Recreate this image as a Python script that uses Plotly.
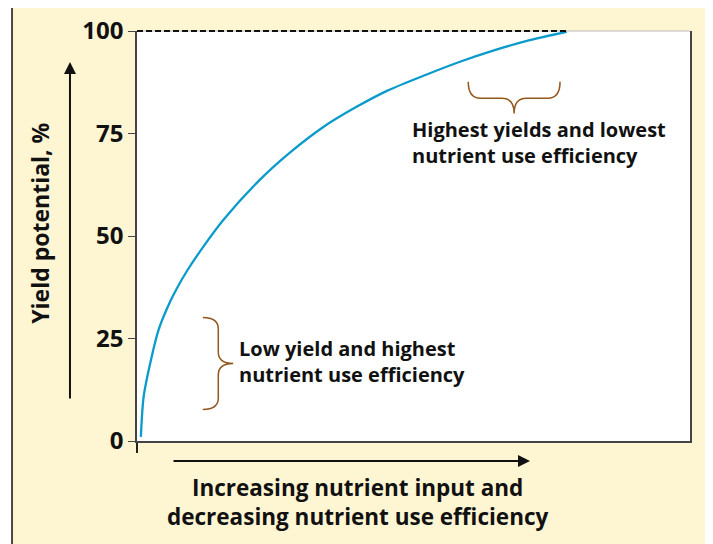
import plotly.graph_objects as go

# Data: nutrient input (relative units 0-100) vs yield potential (%)
nutrient_input = [0.7, 1.2, 2.4, 3.9, 6.0, 7.2, 9.0, 12.0, 15.6, 22.2, 27.7, 33.7,
                  39.7, 45.2, 52.4, 58.4, 64.4, 70.5, 77.7]
yield_potential = [1.0, 10.8, 19.0, 27.1, 34.0, 37.2, 41.4, 47.4, 53.9, 63.7, 70.4, 76.6,
                   81.5, 85.4, 89.4, 92.5, 95.2, 97.6, 99.8]
y_ticks = [0, 25, 50, 75, 100]

FONT = "Open Sans"
BROWN = "#94581F"
BLUE = "#0A9BCB"
CREAM = "#FEF5D3"

fig = go.Figure()
fig.add_trace(go.Scatter(x=nutrient_input, y=yield_potential, mode="lines",
                         line=dict(color=BLUE, width=2.3, shape="spline", smoothing=0.8),
                         hoverinfo="skip", showlegend=False))


def brace_right(x0, xv, xt, ytop, ybot, r):
    ym = (ytop + ybot) / 2
    return (f"M {x0},{ytop} Q {xv},{ytop} {xv},{ytop - r} L {xv},{ym + r} "
            f"Q {xv},{ym} {xt},{ym} Q {xv},{ym} {xv},{ym - r} L {xv},{ybot + r} "
            f"Q {xv},{ybot} {x0},{ybot}")


def brace_down(xl, xr, yend, yline, ytip, r):
    xm = (xl + xr) / 2
    return (f"M {xl},{yend} Q {xl},{yline} {xl + r},{yline} L {xm - r},{yline} "
            f"Q {xm},{yline} {xm},{ytip} Q {xm},{yline} {xm + r},{yline} L {xr - r},{yline} "
            f"Q {xr},{yline} {xr},{yend}")


shapes = [
    # cream frame
    dict(type="rect", xref="paper", yref="paper", x0=-0.226, x1=1.0307, y0=-0.3, y1=1.061,
         fillcolor=CREAM, line=dict(color="#111", width=1.5), layer="below"),
    # white plot panel
    dict(type="rect", xref="paper", yref="paper", x0=0, x1=1, y0=0, y1=1,
         fillcolor="white", line=dict(width=0), layer="below"),
    # top border of plot area (light)
    dict(type="line", xref="paper", yref="paper", x0=0, x1=1, y0=1, y1=1,
         line=dict(color="#BBBBBB", width=1.2)),
    # dashed line at 100% (top of the y range)
    dict(type="line", xref="x", yref="paper", x0=0, x1=nutrient_input[-1], y0=1, y1=1,
         line=dict(color="#111", width=2, dash="6px,3px")),
    # braces
    dict(type="path", xref="x", yref="y",
         path=brace_right(11.9, 14.7, 17.4, 30.1, 7.7, 2.8),
         line=dict(color=BROWN, width=1.5)),
    dict(type="path", xref="x", yref="y",
         path=brace_down(59.9, 76.5, 87.6, 83.6, 79.9, 2.2),
         line=dict(color=BROWN, width=1.5)),
]

annotations = [
    dict(x=18.1, y=19.4, xref="x", yref="y", xanchor="left", yanchor="middle", align="left",
         text="Low yield and highest<br>nutrient use efficiency", showarrow=False,
         font=dict(family=FONT, size=20, color="#111", weight=700)),
    dict(x=49.4, y=72.9, xref="x", yref="y", xanchor="left", yanchor="middle", align="left",
         text="Highest yields and lowest<br>nutrient use efficiency", showarrow=False,
         font=dict(family=FONT, size=20, color="#111", weight=700)),
    dict(x=0.398, y=-0.149, xref="paper", yref="paper", xanchor="center", yanchor="middle",
         text="Increasing nutrient input and<br>decreasing nutrient use efficiency", showarrow=False,
         font=dict(family=FONT, size=22.5, color="#111", weight=700)),
    dict(x=-0.1755, y=0.532, xref="paper", yref="paper", xanchor="center", yanchor="middle",
         text="Yield potential, %", textangle=-90, showarrow=False,
         font=dict(family=FONT, size=23, color="#111", weight=700)),
    # axis arrows
    dict(x=-0.1212, y=0.9244, xref="paper", yref="paper", ax=0, ay=338, axref="pixel", ayref="pixel",
         text="", showarrow=True, arrowhead=2, arrowsize=1.2, arrowwidth=2, arrowcolor="#111"),
    dict(x=0.7107, y=-0.0488, xref="paper", yref="paper", ax=-358, ay=0, axref="pixel", ayref="pixel",
         text="", showarrow=True, arrowhead=2, arrowsize=1.2, arrowwidth=2, arrowcolor="#111"),
]

fig.update_layout(
    width=705, height=536,
    margin=dict(l=129, r=23, t=23, b=103, autoexpand=False),
    paper_bgcolor="white", plot_bgcolor="white",
    shapes=shapes, annotations=annotations,
    xaxis=dict(range=[0, 100], showgrid=False, zeroline=False, showline=True, automargin=False,
               linecolor="#444", linewidth=1.5, tickvals=[0], ticks="outside", ticklen=10,
               tickcolor="#222", tickwidth=1.5, showticklabels=False),
    yaxis=dict(range=[0, 100], showgrid=False, zeroline=False, showline=True, mirror=True,
               automargin=False,
               linecolor="#444", linewidth=1.5, tickvals=y_ticks, ticks="outside", ticklen=7,
               tickcolor="#444", tickwidth=1.2,
               tickfont=dict(family=FONT, size=24, color="#111", weight=700)),
)

fig.write_html("out.html")
